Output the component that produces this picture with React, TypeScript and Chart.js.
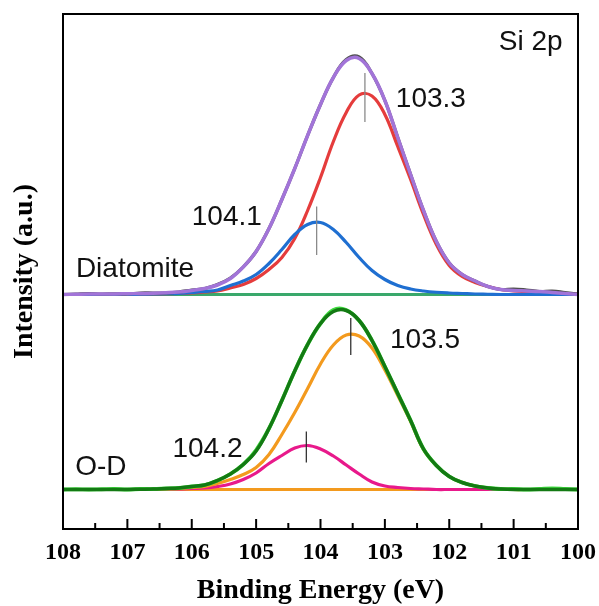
import React, { useEffect, useRef } from "react";
import { Chart, registerables } from "chart.js";

Chart.register(...registerables);

// Binding energy grid (eV), 0.2 eV steps
const energies = [
  108.0, 107.8, 107.6, 107.4, 107.2, 107.0, 106.8, 106.6, 106.4, 106.2,
  106.0, 105.8, 105.6, 105.4, 105.2, 105.0, 104.8, 104.6, 104.4, 104.2,
  104.0, 103.8, 103.6, 103.4, 103.2, 103.0, 102.8, 102.6, 102.4, 102.2,
  102.0, 101.8, 101.6, 101.4, 101.2, 101.0, 100.8, 100.6, 100.4, 100.2,
  100.0,
];

// Diatomite spectrum (intensity above its baseline, a.u.)
const diatomiteRaw = [
  0, 0.1, 0.2, 0.1, 0.15, 0.1, 0.3, 0.3, 0.3, 0.5,
  0.9, 1.2, 2.0, 3.3, 5.5, 8.6, 13.2, 19.0, 25.2, 31.8,
  38.0, 43.4, 47.0, 47.5, 44.2, 38.8, 31.4, 24.0, 16.8, 10.6,
  6.3, 4.0, 2.7, 1.6, 1.0, 1.1, 0.9, 0.6, 0.7, 0.4,
  0.1,
];
const diatomiteEnvelope = [
  0, 0.05, 0.1, 0.1, 0.1, 0.15, 0.2, 0.25, 0.35, 0.5,
  0.8, 1.2, 1.9, 3.2, 5.5, 8.6, 13.2, 19.0, 25.2, 31.8,
  38.0, 43.4, 46.8, 47.2, 44.2, 38.8, 31.4, 24.0, 16.8, 10.6,
  6.3, 4.0, 2.7, 1.6, 1.0, 0.8, 0.7, 0.6, 0.4, 0.2,
  0,
];
const diatomitePeak1033 = [
  0, 0, 0, 0, 0, 0, 0.05, 0.1, 0.15, 0.2,
  0.3, 0.5, 0.7, 1.3, 2.0, 3.2, 5.0, 7.4, 11.2, 16.8,
  23.4, 30.6, 36.4, 39.9, 39.7, 36.0, 29.6, 23.0, 16.0, 10.0,
  5.8, 3.6, 2.4, 1.6, 1.0, 0.7, 0.6, 0.5, 0.3, 0.2,
  0.1,
];
const diatomitePeak1041 = [
  0, 0, 0, 0, 0, 0, 0.05, 0.1, 0.15, 0.2,
  0.4, 0.6, 0.9, 1.8, 2.7, 4.0, 6.2, 9.0, 12.0, 14.0,
  14.4, 13.0, 10.4, 7.4, 4.8, 3.0, 1.8, 1.1, 0.7, 0.45,
  0.3, 0.2, 0.1, 0.05, 0, 0, 0, 0, 0, 0,
  0,
];
const diatomiteBackground = [
  0, 0, 0, 0, 0, 0, 0, 0, 0, 0,
  0, 0, 0, 0, 0, 0, 0, 0, 0, 0,
  0, 0, 0, 0, 0, 0, 0, 0, 0, 0,
  0, 0, 0, 0, 0, 0, 0, 0, 0, 0,
  0,
];

// O-D spectrum (intensity above its baseline, a.u.)
const odRaw = [
  0, 0.05, 0, 0.05, 0.1, 0, 0.1, 0.1, 0.2, 0.3,
  0.6, 0.9, 1.8, 3.1, 5.0, 7.9, 12.2, 17.8, 23.7, 29.0,
  33.2, 35.9, 35.9, 33.8, 29.8, 24.6, 19.2, 13.8, 8.1, 4.8,
  2.6, 1.4, 0.7, 0.3, 0.1, 0.1, 0, 0.1, 0.2, 0.1,
  0,
];
const odEnvelope = [
  0, 0, 0, 0, 0, 0, 0.05, 0.1, 0.2, 0.3,
  0.6, 0.9, 1.8, 3.1, 5.0, 7.7, 12.2, 17.8, 23.7, 29.0,
  33.2, 35.6, 35.8, 33.8, 29.8, 24.6, 19.2, 13.8, 8.1, 4.8,
  2.6, 1.4, 0.7, 0.3, 0.1, 0, 0, 0, 0, 0,
  0,
];
const odPeak1035 = [
  0, 0, 0, 0, 0, 0, 0, 0.05, 0.1, 0.2,
  0.4, 0.6, 1.2, 2.0, 3.0, 4.4, 7.0, 11.0, 15.4, 20.2,
  25.1, 28.9, 30.9, 30.7, 28.3, 23.9, 18.8, 13.6, 8.0, 4.8,
  2.6, 1.4, 0.7, 0.3, 0.1, 0, 0, 0, 0, 0,
  0,
];
const odPeak1042 = [
  0, 0, 0, 0, 0, 0, 0, 0, 0.05, 0.1,
  0.2, 0.3, 0.6, 1.1, 2.0, 3.3, 5.2, 6.8, 8.3, 8.8,
  8.1, 6.7, 4.9, 3.1, 1.5, 0.7, 0.4, 0.2, 0.1, 0,
  0, 0, 0, 0, 0, 0, 0, 0, 0, 0,
  0,
];
const odBackground = [
  0, 0, 0, 0, 0, 0, 0, 0, 0, 0,
  0, 0, 0, 0, 0, 0, 0, 0, 0, 0,
  0, 0, 0, 0, 0, 0, 0, 0, 0, 0,
  0, 0, 0, 0, 0, 0, 0, 0, 0, 0,
  0,
];

// vertical stacking offsets of the two spectra (a.u.)
const diatomiteOffset = 46.9;
const odOffset = 7.9;

// x axis ticks
const majorTicks = [108, 107, 106, 105, 104, 103, 102, 101, 100];
const minorTicks = [107.5, 106.5, 105.5, 104.5, 103.5, 102.5, 101.5, 100.5];

// fitted peak centres and their labels
const peakCenters = [103.31, 104.06, 103.53, 104.22];
const peakLabels = ["103.3", "104.1", "103.5", "104.2"];
const sampleNames = ["Diatomite", "O-D"];
const regionLabel = "Si 2p";

// annotation placement, in data coordinates [x (eV), y (a.u.)]
const peakMarkerSpans = [
  [81.4, 91.2],
  [54.8, 64.5],
  [34.8, 42.2],
  [13.3, 19.5],
];
const peakMarkerColors = ["#8a8a8a", "#8a8a8a", "#333333", "#333333"];
const peakLabelAnchors = [
  [102.83, 84.5],
  [106.0, 60.8],
  [102.92, 36.3],
  [106.3, 14.5],
];
const sampleLabelAnchors = [
  [107.8, 50.4],
  [107.81, 10.8],
];
const regionLabelAnchor = [101.23, 95.8];

const toPoints = (vals: number[], offset: number) =>
  energies.map((e, i) => ({ x: e, y: vals[i] + offset }));

const line = (label: string, vals: number[], offset: number, color: string, width: number) => ({
  label,
  data: toPoints(vals, offset),
  borderColor: color,
  backgroundColor: color,
  borderWidth: width,
  pointRadius: 0,
  tension: 0.4,
  fill: false,
});

const overlayPlugin = {
  id: "overlay",
  afterDatasetsDraw(chart: any) {
    const { ctx, chartArea: a, scales } = chart;
    const x = scales.x;
    const y = scales.y;
    ctx.save();

    // peak markers
    peakCenters.forEach((c, i) => {
      const px = x.getPixelForValue(c);
      ctx.strokeStyle = peakMarkerColors[i];
      ctx.lineWidth = 1.3;
      ctx.beginPath();
      ctx.moveTo(px, y.getPixelForValue(peakMarkerSpans[i][0]));
      ctx.lineTo(px, y.getPixelForValue(peakMarkerSpans[i][1]));
      ctx.stroke();
    });

    // frame
    ctx.strokeStyle = "#000";
    ctx.lineWidth = 2;
    ctx.strokeRect(a.left, a.top, a.right - a.left, a.bottom - a.top);

    // inward ticks
    majorTicks.forEach((v) => {
      const px = x.getPixelForValue(v);
      ctx.beginPath();
      ctx.moveTo(px, a.bottom);
      ctx.lineTo(px, a.bottom - 10);
      ctx.stroke();
    });
    minorTicks.forEach((v) => {
      const px = x.getPixelForValue(v);
      ctx.beginPath();
      ctx.moveTo(px, a.bottom);
      ctx.lineTo(px, a.bottom - 6);
      ctx.stroke();
    });

    // text labels
    ctx.fillStyle = "#111";
    ctx.font = '28px "Liberation Sans", Arial, sans-serif';
    ctx.textAlign = "left";
    ctx.textBaseline = "alphabetic";
    peakLabels.forEach((t, i) => {
      ctx.fillText(t, x.getPixelForValue(peakLabelAnchors[i][0]), y.getPixelForValue(peakLabelAnchors[i][1]));
    });
    sampleNames.forEach((t, i) => {
      ctx.fillText(t, x.getPixelForValue(sampleLabelAnchors[i][0]), y.getPixelForValue(sampleLabelAnchors[i][1]));
    });
    ctx.fillText(regionLabel, x.getPixelForValue(regionLabelAnchor[0]), y.getPixelForValue(regionLabelAnchor[1]));

    ctx.restore();
  },
};

export default function App() {
  const ref = useRef<HTMLCanvasElement | null>(null);

  useEffect(() => {
    if (!ref.current) return;
    const datasets = [
      // first dataset is drawn on top
      line("O-D envelope", odEnvelope, odOffset, "#137a13", 3.5),
      line("O-D raw", odRaw, odOffset, "#3fdc3f", 3.8),
      line("O-D 103.5", odPeak1035, odOffset, "#f39a1e", 3.2),
      line("O-D 104.2", odPeak1042, odOffset, "#e8198b", 3.2),
      line("O-D background", odBackground, odOffset, "#f39a1e", 3.2),
      line("Diatomite envelope", diatomiteEnvelope, diatomiteOffset, "#a274d8", 3.5),
      line("Diatomite raw", diatomiteRaw, diatomiteOffset, "#505050", 3.2),
      line("Diatomite 104.1", diatomitePeak1041, diatomiteOffset, "#1f6fd1", 3.2),
      line("Diatomite 103.3", diatomitePeak1033, diatomiteOffset, "#e53c3c", 3.2),
      line("Diatomite background", diatomiteBackground, diatomiteOffset, "#3aa86b", 3.2),
    ];

    const chart = new Chart(ref.current, {
      type: "line",
      data: { datasets },
      options: {
        animation: false,
        responsive: false,
        devicePixelRatio: 1,
        layout: { padding: { top: 14, right: 21, bottom: 0, left: 0 } },
        plugins: { legend: { display: false }, tooltip: { enabled: false } },
        scales: {
          x: {
            type: "linear",
            min: 100,
            max: 108,
            reverse: true,
            grid: { display: false, drawTicks: false },
            border: { display: false },
            ticks: {
              stepSize: 1,
              autoSkip: false,
              maxRotation: 0,
              padding: 12,
              color: "#000",
              font: { family: '"Liberation Serif", "Times New Roman", serif', weight: "bold", size: 24, lineHeight: 1 },
            },
            title: {
              display: true,
              text: "Binding Energy (eV)",
              color: "#000",
              padding: { top: 0, bottom: 1 },
              font: { family: '"Liberation Serif", "Times New Roman", serif', weight: "bold", size: 28, lineHeight: 1 },
            },
            afterFit: (s: any) => {
              s.height = 77;
              s.paddingLeft = 0;
              s.paddingRight = 0;
            },
          },
          y: {
            type: "linear",
            min: 0,
            max: 103,
            grid: { display: false, drawTicks: false },
            border: { display: false },
            ticks: { display: false },
            title: {
              display: true,
              text: "Intensity (a.u.)",
              color: "#000",
              padding: { top: 11, bottom: 0 },
              font: { family: '"Liberation Serif", "Times New Roman", serif', weight: "bold", size: 28, lineHeight: 1 },
            },
            afterFit: (s: any) => {
              s.width = 63;
              s.paddingTop = 0;
              s.paddingBottom = 0;
            },
          },
        },
      },
      plugins: [overlayPlugin],
    });
    return () => chart.destroy();
  }, []);

  return (
    <canvas
      ref={ref}
      width={599}
      height={606}
      style={{ position: "absolute", left: 0, top: 0, width: 599, height: 606, display: "block" }}
    />
  );
}
